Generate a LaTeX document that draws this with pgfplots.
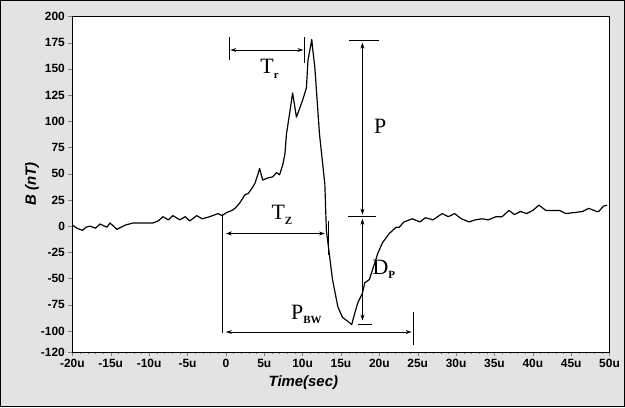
\documentclass[border=0pt]{standalone}
\usepackage{pgfplots}
\pgfplotsset{compat=1.18}
\usepackage{fontspec}
\setmainfont{Liberation Sans}
\newfontfamily\serif{Liberation Serif}
\usetikzlibrary{backgrounds,arrows.meta}
\newcommand{\sub}[1]{\raisebox{-0.45ex}{\fontsize{11}{11}\selectfont\bfseries #1}}
\begin{document}
\begin{tikzpicture}
\begin{axis}[
  scale only axis, width=538bp, height=336bp,
  xmin=-20, xmax=50, ymin=-120, ymax=200,
  axis background/.style={fill=white},
  axis line style={line width=0.8pt},
  xtick={-20,-15,...,50},
  xticklabels={-20u,-15u,-10u,-5u,0,5u,10u,15u,20u,25u,30u,35u,40u,45u,50u},
  minor x tick num=4,
  ytick={-120,-100,-75,-50,-25,0,25,50,75,100,125,150,175,200},
  tick align=outside, tick pos=left,
  major tick length=4pt, minor tick length=2.5pt,
  /pgf/number format/assume math mode=true,
  tick label style={font=\fontsize{12}{13}\selectfont\bfseries},
  xlabel={\bfseries\itshape Time(sec)},
  ylabel={\bfseries\itshape B (nT)},
  xlabel style={at={(axis description cs:0.43,0)}, anchor=north, yshift=-20bp, font=\fontsize{15}{16}\selectfont},
  ylabel style={at={(axis description cs:0,0.5)}, yshift=30bp, font=\fontsize{15}{16}\selectfont},
  clip=false,
]
\addplot[black, line width=1.2pt, line join=round] coordinates {
(-20,1)(-19.4,-2)(-18.7,-4)(-18.2,-1)(-17.7,0)(-17,-2)(-16.4,2)(-15.5,-1)(-15.1,3)(-14.2,-3)
(-13.1,1)(-12.1,3)(-10.9,3)(-9.5,3)(-8.8,5)(-8.2,9)(-7.5,6)(-6.9,10)(-6,6)(-5.3,9)
(-4.7,5)(-3.8,10)(-3.1,7)(-2.1,9)(-1,12)(-0.5,10)(0.1,13)(0.8,15)(1.2,17)(1.8,22)
(2.5,30)(2.9,31)(3.4,36)(3.8,41)(4.2,50)(4.4,55)(4.8,44)(5.5,46)(6.1,47)(6.6,51)
(7,49)(7.4,58)(7.7,69)(7.9,88)(8.3,107)(8.7,127)(9.2,104)(10,120)(10.5,132)(10.7,158)
(11.2,178)(11.3,170)(11.6,151)(12.2,88)(12.9,40)(13.1,-4)(13.9,-51)(14.6,-77)(15.2,-87)(16.1,-92)
(16.4,-94)(16.8,-83)(17.2,-73)(17.8,-64)(18.1,-54)(18.7,-51)(19.1,-42)(19.8,-26)(20.4,-16)(21.3,-7)
(22.2,-1)(22.6,-1)(23.2,4)(24.3,7)(25.3,4)(26,8)(27,6)(28.2,12)(29,9)(29.8,12)
(30.7,7)(31.7,4)(32.5,6)(33.4,7)(34.2,6)(35.2,9)(36,9)(36.9,15)(37.6,11)(38.4,14)
(39.2,12)(40,15)(40.8,20)(41.7,15)(42.7,15)(43.5,15)(44.3,12)(45.5,13)(46.5,14)(47.3,17)
(48.3,14)(48.6,14)(49.2,19)(49.7,20)
};
% annotations
\begin{scope}[line width=0.8pt, >={Stealth[length=6pt,width=4pt]}]
% Tr
\draw (axis cs:0.4,158) -- (axis cs:0.4,180);
\draw (axis cs:10.3,156) -- (axis cs:10.3,180);
\draw[<->] (axis cs:0.6,168) -- (axis cs:10.1,168);
\node[font=\serif\fontsize{22}{22}\selectfont] at (axis cs:5.7,150) {T\sub{r}};
% P
\draw (axis cs:16.1,177) -- (axis cs:19.9,177);
\draw (axis cs:15.9,9) -- (axis cs:19.6,9);
\draw[<->] (axis cs:17.8,175) -- (axis cs:17.8,11);
\node[font=\serif\fontsize{22}{22}\selectfont] at (axis cs:20.1,95) {P};
% Tz
\draw (axis cs:-0.5,12) -- (axis cs:-0.5,-102);
\draw (axis cs:13.3,5) -- (axis cs:13.3,-28);
\draw[<->] (axis cs:0,-7) -- (axis cs:12.9,-7);
\node[font=\serif\fontsize{22}{22}\selectfont] at (axis cs:7.3,11) {T\sub{Z}};
% Dp
\draw[<->] (axis cs:17.8,7) -- (axis cs:17.8,-90);
\draw (axis cs:17.2,-94) -- (axis cs:19.1,-94);
\node[font=\serif\fontsize{22}{22}\selectfont] at (axis cs:20.6,-41) {D\sub{P}};
% PBW
\draw[<->] (axis cs:0,-101) -- (axis cs:24.2,-101);
\draw (axis cs:24.4,-82) -- (axis cs:24.4,-113);
\node[font=\serif\fontsize{22}{22}\selectfont] at (axis cs:10.5,-84) {P\sub{BW}};
\end{scope}
\end{axis}
\begin{scope}[on background layer]
\fill[gray!22, draw=black, line width=1pt] ([xshift=-72bp,yshift=-55bp]current axis.south west) rectangle ([xshift=15bp,yshift=16bp]current axis.north east);
\end{scope}
\end{tikzpicture}
\end{document}
